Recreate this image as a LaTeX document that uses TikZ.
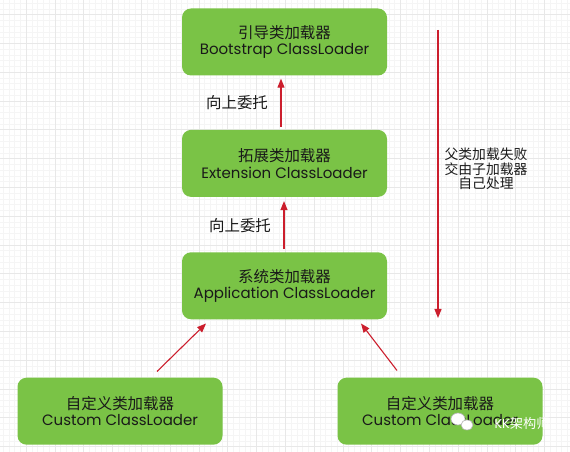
\documentclass[tikz,border=0pt]{standalone}
\usepackage{fontspec}
\setmainfont{Poppins}
\newfontfamily\cjk[Scale=1.03]{Noto Sans CJK SC}
\usetikzlibrary{arrows.meta,positioning}
\definecolor{boxgreen}{RGB}{122,195,70}
\definecolor{arrowred}{RGB}{204,30,45}
\definecolor{textdark}{RGB}{25,25,25}

\begin{document}
\begin{tikzpicture}[x=1pt,y=1pt,
loader/.style={fill=boxgreen, rounded corners=9pt, align=center, minimum width=205pt, minimum height=67pt, text=textdark, font=\fontsize{15}{16.5}\selectfont},
arrow/.style={-{Triangle[length=9pt,width=7pt]}, arrowred, line width=1.1pt},
note/.style={text=textdark, align=center}
]
% background grid
\useasboundingbox (0,0) rectangle (570,452);
\fill[white] (0,0) rectangle (570,452);
\begin{scope}[shift={(26,5.5)}]
\draw[gray!8, line width=0.4pt, step=5.76] (-26,-5.5) grid (544,446.5);
\draw[gray!18, line width=0.5pt, step=28.8] (-26,-5.5) grid (544,446.5);
\end{scope}

\node[loader] (boot) at (284.5,410) {{\cjk 引导类加载器}\\Bootstrap ClassLoader};
\node[loader, below=54pt of boot] (ext) {{\cjk 拓展类加载器}\\Extension ClassLoader};
\node[loader, below=55pt of ext] (app) {{\cjk 系统类加载器}\\Application ClassLoader};
\node[loader, below=58pt of app, xshift=-164.5pt] (custom1) {{\cjk 自定义类加载器}\\Custom ClassLoader};
\node[loader, below=58pt of app, xshift=155.5pt] (custom2) {{\cjk 自定义类加载器}\\Custom ClassLoader};

% delegate upwards
\draw[arrow, shorten <=3pt, shorten >=3pt] ([xshift=-3.5pt]ext.north) -- ([xshift=-3.5pt]boot.south);
\draw[arrow, shorten <=3pt, shorten >=4pt] ([xshift=-0.5pt]app.north) -- ([xshift=-0.5pt]ext.south);
\node[note, font=\fontsize{15}{16}\selectfont] (up1) at (237,349) {\cjk 向上委托};
\node[note, font=\fontsize{15}{16}\selectfont] (up2) at (240,226) {\cjk 向上委托};
\draw[arrow] ([xshift=37pt, yshift=6pt]custom1.north) -- ([xshift=-78.5pt, yshift=-4pt]app.south);
\draw[arrow] ([xshift=-43pt, yshift=7pt]custom2.north) -- ([xshift=76.5pt, yshift=-4pt]app.south);

% parent fails, child loads
\coordinate (failtop) at (438,422);
\coordinate (failend) at (438,134);
\draw[arrow] (failtop) -- (failend);
\node[note, font=\fontsize{13.4}{14.5}\selectfont] (fail) at (486,283) {\cjk 父类加载失败\\\cjk 交由子加载器\\\cjk 自己处理};

% watermark
\fill[white, draw=gray!60, line width=0.6pt] (458,33) ellipse (7pt and 6pt);
\fill[white, draw=gray!60, line width=0.6pt] (467,27) ellipse (6pt and 5pt);
\node[text=white, font=\fontsize{12.8}{13}\selectfont] (mark) at (522,29) {KK{\cjk 架构师}};
\end{tikzpicture}
\end{document}
